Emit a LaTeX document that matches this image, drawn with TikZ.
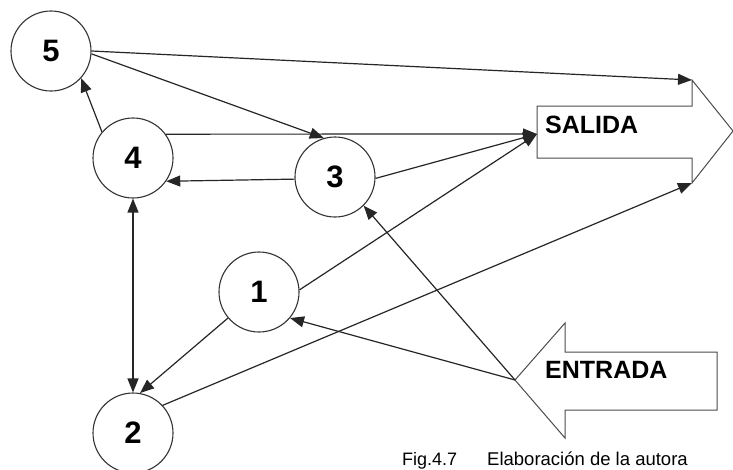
\documentclass[tikz,border=0pt]{standalone}
\usepackage{fontspec}
\setmainfont{Liberation Sans}
\usetikzlibrary{arrows.meta}
\begin{document}
\begin{tikzpicture}[x=1pt,y=-1pt,
  state/.style={circle,draw=black!80,line width=1.1pt,minimum size=80pt,inner sep=0pt,
    font=\fontsize{31}{31}\selectfont\bfseries},
  tip/.tip={Triangle[length=14pt,width=11pt]},
  link/.style={line width=1.2pt,draw=black!85,-tip},
  bothlink/.style={line width=1.2pt,draw=black!85,tip-tip},
  bigarrow/.style={draw=black!70,line width=1pt,fill=white},
  tag/.style={font=\fontsize{25}{25}\selectfont\bfseries,inner sep=0pt}]
\useasboundingbox[fill=white] (0,0) rectangle (733,469);

% input and output block arrows
\draw[bigarrow] (537,106) -- (692,106) -- (692,80) -- (733,131) -- (692,183)
  -- (692,158) -- (537,158) -- cycle;
\draw[bigarrow] (515,380) -- (565,323) -- (565,352) -- (717,352) -- (717,410)
  -- (565,410) -- (565,438) -- cycle;
\node[tag,anchor=west] (salida) at (545,125) {SALIDA};
\node[tag,anchor=west] (entrada) at (545,370) {ENTRADA};

\coordinate (sin) at (537,134);
\coordinate (stop) at (692,80);
\coordinate (sbot) at (692,183);
\coordinate (etip) at (515,380);

% states
\node[state] (n5) at (51,51) {5};
\node[state] (n4) at (133,158) {4};
\node[state] (n3) at (335,177) {3};
\node[state] (n1) at (259,292) {1};
\node[state] (n2) at (133,433) {2};

% connections
\draw[link] (n5.0) -- (stop);
\draw[link] (n5.-4) -- (n3.106);
\draw[link] (n4.140) -- (n5.-42);
\draw[link] (n4.36) -- (sin);
\draw[link] (n3.183) -- (n4.-35);
\draw[link] (n3.-2) -- (sin);
\draw[link] (n1.3) -- (sin);
\draw[link] (n1.220) -- (n2.80);
\draw[bothlink] (n2.90) -- (n4.270);
\draw[link] (n2.43) -- (sbot);
\draw[link] (etip) -- (n1.-40);
\draw[link] (etip) -- (n3.-45);

% caption
\node[anchor=base west,inner sep=0pt,font=\fontsize{18}{18}\selectfont] (fig) at (402,465) {Fig.4.7};
\node[anchor=base west,inner sep=0pt,font=\fontsize{18.5}{18.5}\selectfont] (src) at (487,465) {Elaboración de la autora};
\end{tikzpicture}
\end{document}
